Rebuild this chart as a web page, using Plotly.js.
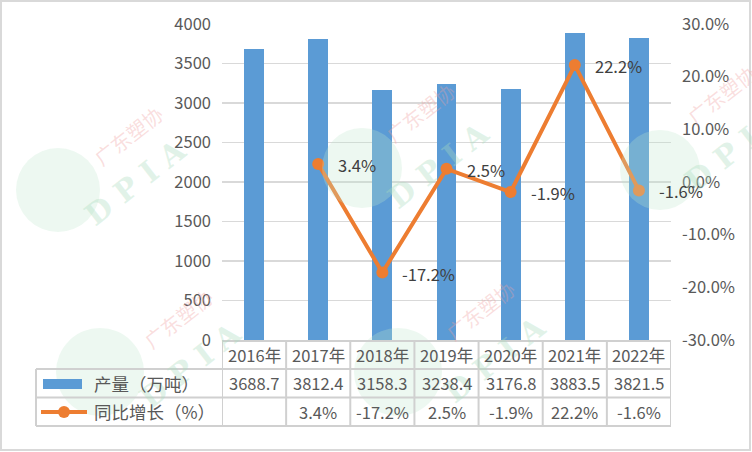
<!DOCTYPE html>
<html>
<head>
<meta charset="utf-8">
<script src="https://cdn.plot.ly/plotly-3.0.1.min.js"></script>
<style>html,body{margin:0;padding:0;background:#fff;}#chart{width:752px;height:452px;}</style>
</head>
<body>
<div id="chart"></div>
<script>
const categories = ["2016年","2017年","2018年","2019年","2020年","2021年","2022年"];
const production = [3688.7, 3812.4, 3158.3, 3238.4, 3176.8, 3883.5, 3821.5];
const growth = [null, 3.4, -17.2, 2.5, -1.9, 22.2, -1.6];
const seriesNames = ["产量（万吨）", "同比增长（%）"];
const leftTicks = [0, 500, 1000, 1500, 2000, 2500, 3000, 3500, 4000];
const rightTicks = [-30, -20, -10, 0, 10, 20, 30];
const watermarkName = "广东塑协";
const watermarkLogo = "D P I A";

const W = 752, H = 452, L = 222, R = 671, T = 24, B = 340;
const px = v => (v - L) / (R - L);
const py = v => (B - v) / (B - T);
const FONT = '"Noto Sans CJK SC", "Noto Sans", sans-serif';
const TXT = '#595959';
const BAR = '#5B9BD5';
const LINE = '#ED7D31';
const GRIDC = '#D9D9D9';

const traces = [
  {type:'bar', x:categories, y:production, name:seriesNames[0], marker:{color:BAR}, width:0.31, yaxis:'y', hoverinfo:'x+y'},
  {type:'scatter', mode:'lines+markers', x:categories.slice(1), y:growth.slice(1), name:seriesNames[1], yaxis:'y2',
   line:{color:LINE, width:4}, marker:{color:LINE, size:12}}
];

const shapes = [];
const annotations = [];

// faint watermarks (decorative): circle centre, text anchors
const marks = [
  {cx:58, cy:190, r:42, red:[128,135], dpia:[135,182]},
  {cx:362, cy:168, r:40, red:[420,112], dpia:[438,165]},
  {cx:660, cy:170, r:40, red:[722,95], dpia:[735,148]},
  {cx:100, cy:372, r:44, red:[178,318], dpia:[190,365]},
  {cx:398, cy:372, r:44, red:[480,310], dpia:[495,360]}
];
marks.forEach(m => {
  shapes.push({type:'circle', xref:'paper', yref:'paper', layer:'above',
    x0:px(m.cx - m.r), x1:px(m.cx + m.r), y0:py(m.cy + m.r), y1:py(m.cy - m.r),
    fillcolor:'rgba(190,230,205,0.28)', line:{width:0}});
  annotations.push({xref:'paper', yref:'paper', x:px(m.red[0]), y:py(m.red[1]), text:watermarkName, showarrow:false,
    textangle:-38, font:{family:FONT, size:20, color:'rgba(240,160,160,0.35)'}, xanchor:'center', yanchor:'middle'});
  annotations.push({xref:'paper', yref:'paper', x:px(m.dpia[0]), y:py(m.dpia[1]), text:'<b>' + watermarkLogo + '</b>', showarrow:false,
    textangle:-38, font:{family:'"DejaVu Serif", serif', size:30, color:'rgba(170,220,190,0.35)'}, xanchor:'center', yanchor:'middle'});
});

const lineStyle = {color:'#D0D0D0', width:2};
// table horizontal lines
const rowY = [341, 369, 397.5, 426];
rowY.forEach((y, i) => {
  shapes.push({type:'line', xref:'paper', yref:'paper', x0: px(i === 0 ? L : 36), x1: px(R), y0: py(y), y1: py(y), line: lineStyle});
});
// table vertical lines
for (let i = 0; i <= categories.length; i++) {
  shapes.push({type:'line', xref:'x', yref:'paper', x0: i - 0.5, x1: i - 0.5, y0: py(341), y1: py(426), line: lineStyle});
}
shapes.push({type:'line', xref:'paper', yref:'paper', x0: px(36), x1: px(36), y0: py(369), y1: py(426), line: lineStyle});
// legend keys in table
shapes.push({type:'rect', xref:'paper', yref:'paper', x0: px(43), x1: px(82), y0: py(389), y1: py(379), fillcolor: BAR, line:{width:0}});
shapes.push({type:'line', xref:'paper', yref:'paper', x0: px(41), x1: px(87), y0: py(412), y1: py(412), line:{color:LINE, width:4}});
shapes.push({type:'circle', xref:'paper', yref:'paper', x0: px(58), x1: px(70), y0: py(418), y1: py(406), fillcolor: LINE, line:{width:0}});
// outer border
shapes.push({type:'rect', xref:'paper', yref:'paper', x0: px(1), x1: px(750), y0: py(450), y1: py(1), line:{color:'#D9D9D9', width:2}});

// table text
const tf = {family: FONT, size: 16.5, color: TXT};
categories.forEach((c, i) => {
  annotations.push({xref:'x', yref:'paper', x:c, y:py(355), text:c, showarrow:false, font:tf, xanchor:'center', yanchor:'middle'});
  annotations.push({xref:'x', yref:'paper', x:c, y:py(383), text:production[i].toFixed(1), showarrow:false, font:tf, xanchor:'center', yanchor:'middle'});
  if (growth[i] !== null) {
    annotations.push({xref:'x', yref:'paper', x:c, y:py(411.5), text:growth[i].toFixed(1) + '%', showarrow:false, font:tf, xanchor:'center', yanchor:'middle'});
    // data labels on line
    annotations.push({xref:'x', yref:'y2', x:c, y:growth[i], text:growth[i].toFixed(1) + '%', showarrow:false,
      font:{family: FONT, size: 16.5, color:'#404040'}, xanchor:'left', yanchor:'middle', xshift:18, yshift:-1});
  }
});
const lf = {family: FONT, size: 17.5, color: TXT};
annotations.push({xref:'paper', yref:'paper', x:px(92), y:py(383), text:seriesNames[0], showarrow:false, font:lf, xanchor:'left', yanchor:'middle'});
annotations.push({xref:'paper', yref:'paper', x:px(92), y:py(411.5), text:seriesNames[1], showarrow:false, font:lf, xanchor:'left', yanchor:'middle'});

const layout = {
  width: W, height: H,
  margin: {l: L, r: W - R, t: T, b: H - B, pad: 0},
  paper_bgcolor: '#fff', plot_bgcolor: '#fff',
  showlegend: false,
  bargap: 0,
  font: {family: FONT, size: 16.5, color: TXT},
  xaxis: {type:'category', showticklabels:false, showgrid:false, zeroline:false, showline:false, ticks:'', range:[-0.5, 6.5], fixedrange:true},
  yaxis: {range:[0, 4000], tickvals: leftTicks, ticktext: leftTicks.map(String), showgrid:true, gridcolor:GRIDC, gridwidth:1.5,
          zeroline:false, showline:false, ticks:'', ticklabelstandoff: 10, tickfont:{family:FONT, size:16.5, color:TXT}},
  yaxis2: {range:[-30, 30], overlaying:'y', side:'right', tickvals: rightTicks, ticktext: rightTicks.map(v => v.toFixed(1) + '%'),
           showgrid:false, zeroline:false, showline:false, ticks:'', ticklabelstandoff: 10, tickfont:{family:FONT, size:16.5, color:TXT}},
  shapes: shapes,
  annotations: annotations
};

Plotly.newPlot('chart', traces, layout, {displayModeBar:false, staticPlot:true});
</script>
</body>
</html>
